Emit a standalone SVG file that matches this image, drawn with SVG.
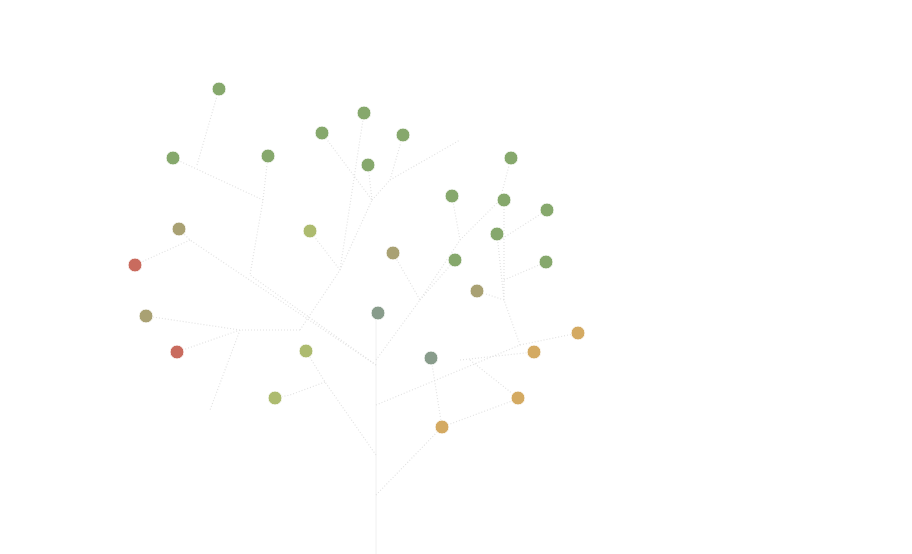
<svg xmlns="http://www.w3.org/2000/svg" width="912" height="554" viewBox="0 0 912 554">
<style>
.l{stroke:#e2e2e2;stroke-width:1.2;stroke-dasharray:1 2;fill:none}
.t{stroke:#f0f0f0;stroke-width:1;fill:none}
.g{fill:#86a86c}.o{fill:#a9a173}.r{fill:#c96b5e}.lg{fill:#adbb6f}.tl{fill:#889c8b}.y{fill:#d4aa62}
circle{stroke:#fff;stroke-width:1}
</style>
<rect width="912" height="554" fill="#fff"/>
<g id="connectors">
<path class="t" d="M376,554V313"/>
<path class="l" d="M376,455L325,382L306,351M325,382L290,395L275,398"/>
<path class="l" d="M376,365L190,240L179,229M190,240L135,265"/>
<path class="l" d="M376,365L250,275L263,200L268,156M263,200L173,158M197,165L219,89"/>
<path class="l" d="M300,330L240,330L210,410M240,330L177,352M240,330L146,316"/>
<path class="l" d="M300,330L340,270L310,231M340,270L372,200L322,133M372,200L390,180L403,135M390,180L460,140M372,200L368,165M340,270L364,113"/>
<path class="l" d="M376,360L420,300L393,253M420,300L460,240L452,196M460,240L500,200L511,158M500,240L547,210M420,300L455,260"/>
<path class="l" d="M376,405L520,345L578,333M520,345L504,300L497,234M504,300L504,200M504,300L477,291M504,280L546,262M460,360L534,352M470,360L518,398"/>
<path class="l" d="M376,495L442,427L431,358M442,427L520,398"/>
</g>
<g id="nodes">
<circle class="g" cx="219" cy="89" r="7"/><circle class="g" cx="173" cy="158" r="7"/><circle class="g" cx="268" cy="156" r="7"/><circle class="g" cx="322" cy="133" r="7"/><circle class="g" cx="364" cy="113" r="7"/><circle class="g" cx="403" cy="135" r="7"/><circle class="g" cx="368" cy="165" r="7"/><circle class="g" cx="511" cy="158" r="7"/><circle class="g" cx="452" cy="196" r="7"/><circle class="g" cx="504" cy="200" r="7"/><circle class="g" cx="547" cy="210" r="7"/><circle class="g" cx="497" cy="234" r="7"/><circle class="g" cx="455" cy="260" r="7"/><circle class="g" cx="546" cy="262" r="7"/>
<circle class="o" cx="179" cy="229" r="7"/><circle class="o" cx="393" cy="253" r="7"/><circle class="o" cx="477" cy="291" r="7"/><circle class="o" cx="146" cy="316" r="7"/>
<circle class="r" cx="135" cy="265" r="7"/><circle class="r" cx="177" cy="352" r="7"/>
<circle class="lg" cx="310" cy="231" r="7"/><circle class="lg" cx="306" cy="351" r="7"/><circle class="lg" cx="275" cy="398" r="7"/>
<circle class="tl" cx="378" cy="313" r="7"/><circle class="tl" cx="431" cy="358" r="7"/>
<circle class="y" cx="578" cy="333" r="7"/><circle class="y" cx="534" cy="352" r="7"/><circle class="y" cx="518" cy="398" r="7"/><circle class="y" cx="442" cy="427" r="7"/>
</g>
</svg>
